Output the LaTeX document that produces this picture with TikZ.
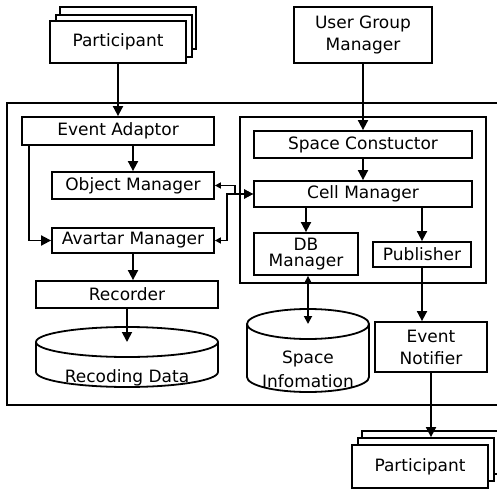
\documentclass[tikz,border=0pt]{standalone}
\usepackage{fontspec}
\setmainfont{DejaVu Sans}
\usetikzlibrary{positioning, arrows.meta}

\begin{document}
\begin{tikzpicture}[x=1pt, y=-1pt, line width=1.8pt,
	block/.style={draw, rectangle, fill=white, inner sep=0pt, align=center, font=\fontsize{17}{22}\selectfont},
	label/.style={inner sep=0pt, align=center, font=\fontsize{17}{24}\selectfont},
	big/.style={-{Triangle[length=10pt, width=10pt]}},
	both/.style={{Triangle[length=8pt, width=8pt]}-{Triangle[length=8pt, width=8pt]}},
	link/.style={{Triangle[length=6pt, width=6pt]}-{Triangle[length=9pt, width=9pt]}}]
	\useasboundingbox (0,0) rectangle (497,489);

	% outer frame and the space group frame
	\draw (7,103) rectangle (512,405);
	\draw (240,117) rectangle (486,283);

	% participants coming in
	\node[block, minimum width=136pt, minimum height=42pt] (partA3) at (128,28) {};
	\node[block, minimum width=136pt, minimum height=42pt] (partA2) at (124,36) {};
	\node[block, minimum width=136pt, minimum height=42pt] (partA) at (118,42) {Participant};
	\node[block, minimum width=138pt, minimum height=56pt] (ugm) at (363,35) {User Group\\Manager};

	% left column
	\node[block, minimum width=192pt, minimum height=28pt] (event) at (118,131) {Event Adaptor};
	\node[block, minimum width=162pt, minimum height=27pt] (object) at (133,185.5) {Object Manager};
	\node[block, minimum width=162pt, minimum height=25pt] (avatar) at (133,240.5) {Avartar Manager};
	\node[block, minimum width=182pt, minimum height=27pt] (recorder) at (127,294.5) {Recorder};

	% right column
	\node[block, minimum width=218pt, minimum height=27pt] (space) at (363,144.5) {Space Constuctor};
	\node[block, minimum width=218pt, minimum height=26pt] (cell) at (363,194) {Cell Manager};
	\node[block, minimum width=104pt, minimum height=42pt, font=\fontsize{17}{16}\selectfont] (db) at (306,254) {DB\\Manager};
	\node[block, minimum width=98pt, minimum height=25pt] (pub) at (422,254.5) {Publisher};
	\node[block, minimum width=112pt, minimum height=50pt] (notifier) at (431,347) {Event\\Notifier};

	% participants going out
	\node[block, minimum width=136pt, minimum height=43pt] (partB3) at (430,452.5) {};
	\node[block, minimum width=136pt, minimum height=43pt] (partB2) at (426,459.5) {};
	\node[block, minimum width=136pt, minimum height=43pt] (partB) at (420,466.5) {Participant};

	% storages
	\draw[fill=white] (36,342) -- (36,372) arc[start angle=180, end angle=0, x radius=91, y radius=15] -- (218,342);
	\draw[fill=white] (127,342) ellipse[x radius=91, y radius=15];
	\coordinate (rectop) at (127,342);
	\node[label] (recdata) at (127,378) {Recoding Data};

	\draw[fill=white] (247,324) -- (247,377) arc[start angle=180, end angle=0, x radius=61, y radius=15] -- (369,324);
	\draw[fill=white] (308,324) ellipse[x radius=61, y radius=15];
	\coordinate (infotop) at (308,324);
	\node[label] (info) at (308,369.5) {Space\\Infomation};

	% connectors
	\draw[big] (partA) -- (event);
	\draw[big] (ugm) -- (space);
	\draw[big] (object.north |- event.south) -- (object.north);
	\draw[big] ([xshift=8pt]event.south west) |- (avatar.west);
	\draw[link] (object.east) -- ++(20,0) |- (cell.west);
	\draw[link] (avatar.east) -- ++(12,0) |- (cell.west);
	\draw[big] (avatar.south) -- (avatar.south |- recorder.north);
	\draw[big] (recorder) -- (rectop);
	\draw[big] (space) -- (cell);
	\draw[big] (cell.south -| db.north) -- (db.north);
	\draw[big] (cell.south -| pub.north) -- (pub.north);
	\draw[both] (db.south -| infotop) -- (infotop);
	\draw[big] (pub.south) -- (pub.south |- notifier.north);
	\draw[big] (notifier.south) -- (notifier.south |- partB2.north);
\end{tikzpicture}
\end{document}
